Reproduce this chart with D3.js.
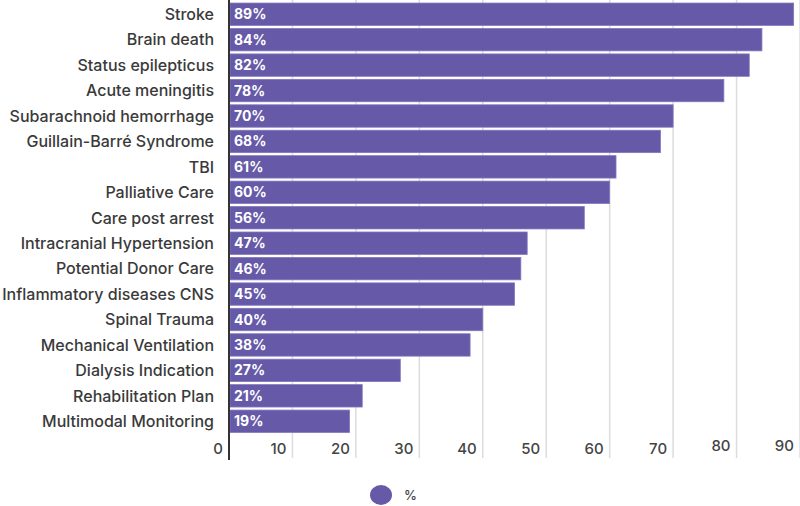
<!DOCTYPE html>
<html><head><meta charset="utf-8">
<script src="https://cdn.jsdelivr.net/npm/d3@7"></script>
<style>body{margin:0;background:#fff;} svg{display:block;}</style>
</head><body>
<svg id="c" width="800" height="506"></svg>
<script>
const categories = ["Stroke","Brain death","Status epilepticus","Acute meningitis","Subarachnoid hemorrhage","Guillain-Barré Syndrome","TBI","Palliative Care","Care post arrest","Intracranial Hypertension","Potential Donor Care","Inflammatory diseases CNS","Spinal Trauma","Mechanical Ventilation","Dialysis Indication","Rehabilitation Plan","Multimodal Monitoring"];
const values = [89,84,82,78,70,68,61,60,56,47,46,45,40,38,27,21,19];
const tickValues = [0,10,20,30,40,50,60,70,80,90];
const seriesName = "%";

const color = "#6559a8";
const svg = d3.select("#c");
const font = "Inter, 'Noto Sans', sans-serif";

const x = d3.scaleLinear().domain([0, 90]).range([229, 800]);
const y = d3.scaleBand().domain(categories).range([0.5, 435]).paddingInner(0.12).paddingOuter(0.1);

// gridlines
svg.append("g").selectAll("line").data(tickValues.filter(d => d > 0)).join("line")
  .attr("x1", d => x(d)).attr("x2", d => x(d))
  .attr("y1", 0).attr("y2", 458)
  .attr("stroke", "#dcdcdc").attr("stroke-width", 1.5);

// bars
svg.append("g").selectAll("rect").data(values).join("rect")
  .attr("x", x(0) + 1)
  .attr("y", (d, i) => y(categories[i]))
  .attr("width", d => x(d) - x(0) - 1)
  .attr("height", y.bandwidth())
  .attr("fill", color)
  .attr("stroke", "#8178bd").attr("stroke-width", 0.8);

// value labels
svg.append("g").selectAll("text").data(values).join("text")
  .attr("x", x(0) + 5)
  .attr("y", (d, i) => y(categories[i]) + y.bandwidth() / 2)
  .attr("dy", "0.36em")
  .attr("fill", "#fff")
  .style("font", "bold 14px " + font)
  .text(d => d + "%");

// category labels
svg.append("g").selectAll("text").data(categories).join("text")
  .attr("x", 214)
  .attr("y", d => y(d) + y.bandwidth() / 2)
  .attr("dy", "0.36em")
  .attr("text-anchor", "end")
  .attr("fill", "#3a3a3a")
  .style("font", "500 16px " + font)
  .text(d => d);

// axis line
svg.append("line").attr("x1", x(0)).attr("x2", x(0)).attr("y1", 0).attr("y2", 460)
  .attr("stroke", "#333").attr("stroke-width", 2);

// tick labels (right-aligned just left of their gridline)
svg.append("g").selectAll("text").data(tickValues).join("text")
  .attr("x", d => x(d) - 6)
  .attr("y", d => d >= 80 ? 451 : 454)
  .attr("text-anchor", "end")
  .attr("fill", "#444")
  .style("font", "500 15px " + font)
  .text(d => d);

// legend
const lg = svg.append("g");
lg.append("ellipse").attr("cx", 381).attr("cy", 495).attr("rx", 11).attr("ry", 10).attr("fill", color);
lg.append("text").attr("x", 404).attr("y", 500).attr("fill", "#444")
  .style("font", "500 13px " + font).text(seriesName);
</script>
</body></html>
